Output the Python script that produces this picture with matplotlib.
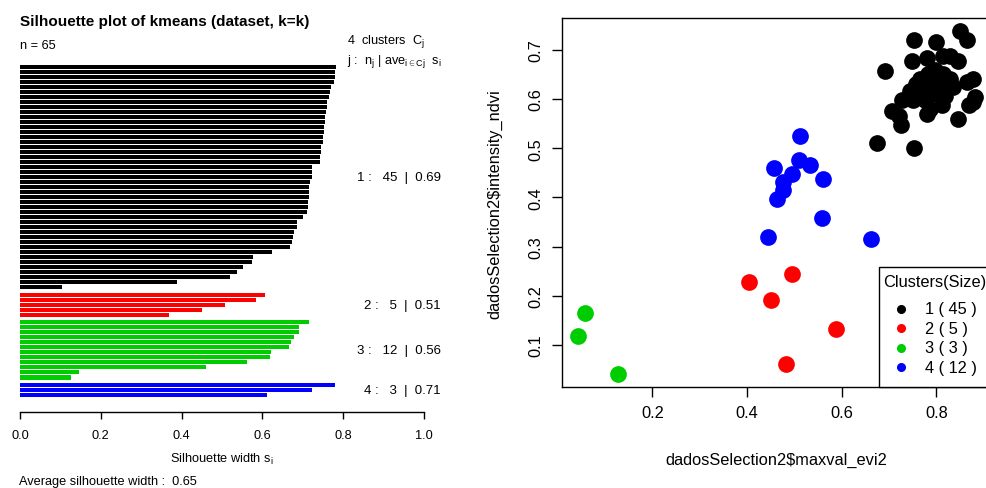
import numpy as np
import matplotlib
matplotlib.use("Agg")
import matplotlib.pyplot as plt
from matplotlib.lines import Line2D
from matplotlib.patches import Rectangle

plt.rcParams['font.family'] = ['Liberation Sans', 'DejaVu Sans']
plt.rcParams['mathtext.fontset'] = 'custom'
plt.rcParams['mathtext.rm'] = 'Liberation Sans'
plt.rcParams['mathtext.it'] = 'Liberation Sans:italic'
plt.rcParams['mathtext.bf'] = 'Liberation Sans:bold'

# silhouette widths, one list per cluster (sorted like the plot)
sil_1 = [0.782, 0.780, 0.779, 0.777, 0.769, 0.768, 0.764, 0.761, 0.760, 0.757,
         0.756, 0.755, 0.753, 0.752, 0.751, 0.751, 0.746, 0.744, 0.743, 0.742,
         0.724, 0.723, 0.722, 0.718, 0.716, 0.716, 0.715, 0.713, 0.713, 0.710,
         0.701, 0.686, 0.685, 0.677, 0.676, 0.673, 0.668, 0.624, 0.576, 0.575,
         0.551, 0.538, 0.519, 0.389, 0.103]
sil_2 = [0.607, 0.584, 0.508, 0.450, 0.370]
sil_3 = [0.716, 0.691, 0.691, 0.677, 0.671, 0.666, 0.621, 0.619, 0.563, 0.460,
         0.146, 0.125]
sil_4 = [0.780, 0.723, 0.612]
sil_avg = [0.69, 0.51, 0.56, 0.71]
sil_total = 0.65
colors = ['black', '#FF0000', '#00CD00', '#0000FF']

# scatter: maxval_evi2 (x) vs intensity_ndvi (y) per cluster
c1_x = [0.851, 0.865, 0.753, 0.799, 0.749, 0.780, 0.815, 0.829, 0.845, 0.692,
        0.783, 0.815, 0.829, 0.877, 0.864, 0.758, 0.772, 0.794, 0.744, 0.762,
        0.783, 0.804, 0.836, 0.882, 0.727, 0.776, 0.818, 0.707, 0.722, 0.725,
        0.780, 0.787, 0.811, 0.868, 0.878, 0.846, 0.674, 0.753, 0.765, 0.790,
        0.801, 0.751, 0.822, 0.780, 0.797]
c1_y = [0.738, 0.719, 0.719, 0.715, 0.677, 0.684, 0.687, 0.687, 0.677, 0.656,
        0.651, 0.651, 0.641, 0.641, 0.634, 0.631, 0.627, 0.631, 0.617, 0.610,
        0.620, 0.624, 0.625, 0.605, 0.597, 0.597, 0.607, 0.576, 0.566, 0.547,
        0.570, 0.580, 0.588, 0.588, 0.593, 0.559, 0.511, 0.500, 0.641, 0.641,
        0.610, 0.597, 0.634, 0.607, 0.658]
c2_x = [0.404, 0.451, 0.496, 0.589, 0.482]
c2_y = [0.228, 0.191, 0.244, 0.133, 0.061]
c3_x = [0.058, 0.042, 0.127]
c3_y = [0.165, 0.119, 0.041]
c4_x = [0.512, 0.456, 0.510, 0.533, 0.494, 0.477, 0.475, 0.463, 0.560, 0.558,
        0.445, 0.662]
c4_y = [0.525, 0.459, 0.475, 0.466, 0.448, 0.432, 0.414, 0.397, 0.437, 0.358,
        0.320, 0.315]

W, H = 986, 489


def fx(px):
    return px / W


def fy(py):
    return 1 - py / H


fig = plt.figure(figsize=(W / 100, H / 100), dpi=100)

# ---- left: silhouette plot
sil = [sil_1, sil_2, sil_3, sil_4]
ax1 = fig.add_axes([fx(20), fy(413), 404 / W, (413 - 64) / H])
cur = 0.0
for k, vals in enumerate(sil):
    p = [cur + i for i in range(len(vals))]
    ax1.barh(p, vals, height=0.82, color=colors[k], linewidth=0)
    ax1.text(1.042, np.mean(p), f"{k + 1} :   {len(vals)}  |  {sil_avg[k]:.2f}",
             ha='right', va='center', fontsize=9.5, clip_on=False)
    cur = p[-1] + 1.5
ax1.set_xlim(0, 1)
ax1.set_ylim(68.9, -0.8)
ax1.set_yticks([])
ax1.set_xticks(np.arange(0, 1.01, 0.2))
ax1.set_xticklabels([f"{t:.1f}" for t in np.arange(0, 1.01, 0.2)])
ax1.tick_params(axis='x', length=5, width=1, labelsize=9.2, pad=7.5)
for s in ['left', 'right', 'top']:
    ax1.spines[s].set_visible(False)
ax1.spines['bottom'].set_linewidth(1)
ax1.set_xlabel(r'Silhouette width s$_\mathrm{i}$', fontsize=9.2, labelpad=7)

n_total = sum(len(v) for v in sil)
fig.text(fx(20), fy(22), 'Silhouette plot of kmeans (dataset, k=k)',
         fontsize=11, fontweight='bold', va='center')
fig.text(fx(20), fy(46), f'n = {n_total}', fontsize=9.2, va='center')
fig.text(fx(347), fy(42), f'{len(sil)}  clusters  ' + r'C$_\mathrm{j}$',
         fontsize=9.2, va='center')
fig.text(fx(347), fy(62),
         r'j :  n$_\mathrm{j}$ | ave$_{\mathrm{i\in Cj}}$  s$_\mathrm{i}$',
         fontsize=9.2, va='center')
fig.text(fx(19), fy(482), f'Average silhouette width :  {sil_total:.2f}',
         fontsize=9.2, va='center')

# ---- right: scatter plot of the clusters
xs = [c1_x, c2_x, c3_x, c4_x]
ys = [c1_y, c2_y, c3_y, c4_y]
ax2 = fig.add_axes([fx(561.7), fy(388.3), (990.3 - 561.7) / W, (388.3 - 19) / H])
for k in range(4):
    ax2.scatter(xs[k], ys[k], s=145, color=colors[k], linewidths=0, zorder=3)
ax2.set_xlim(0.0085, 0.914)
ax2.set_ylim(0.014, 0.7646)
ax2.set_xticks([0.2, 0.4, 0.6, 0.8])
ax2.set_yticks([0.1, 0.2, 0.3, 0.4, 0.5, 0.6, 0.7])
ax2.tick_params(length=7, width=1, labelsize=11.8, pad=6)
for lab in ax2.get_yticklabels():
    lab.set_rotation(90)
    lab.set_va('center')
for s in ax2.spines.values():
    s.set_linewidth(1)
ax2.set_xlabel(r'dadosSelection2\$maxval_evi2', fontsize=11.8, labelpad=23)
ax2.set_ylabel(r'dadosSelection2\$intensity_ndvi', fontsize=11.8, labelpad=19)

# legend box (clipped at the right edge like the original)
fig.add_artist(Rectangle((fx(879.3), fy(388.3)), 0.2, (388.3 - 268.3) / H,
                         transform=fig.transFigure, facecolor='white',
                         edgecolor='black', linewidth=1))
fig.text(fx(883), fy(283), 'Clusters(Size)', fontsize=11.8, va='center')
for k in range(4):
    ry = 309.7 + k * 19.5
    fig.add_artist(Line2D([fx(901)], [fy(ry)], marker='o', markersize=5.5,
                          color=colors[k], linestyle='', transform=fig.transFigure))
    fig.text(fx(925), fy(ry), f'{k + 1} ( {len(xs[k])} )', fontsize=11.8, va='center')

fig.savefig('out.png', dpi=100)
